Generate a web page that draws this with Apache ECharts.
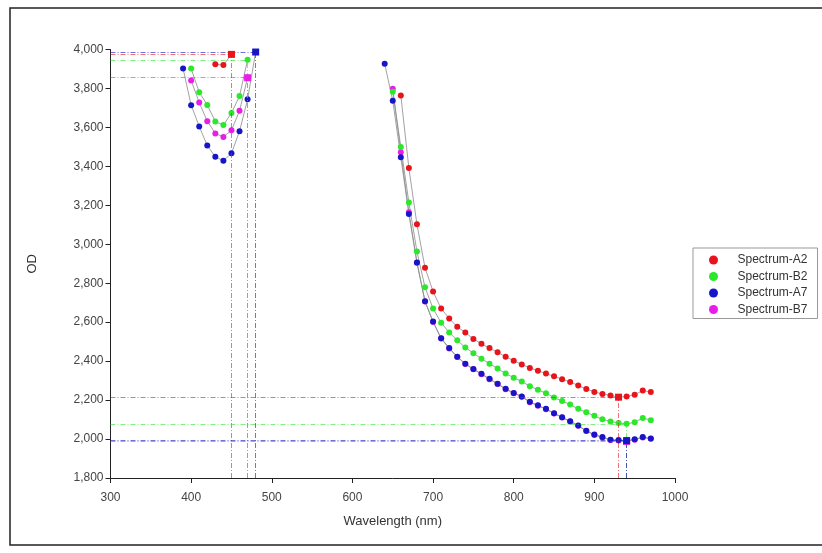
<!DOCTYPE html>
<html>
<head>
<meta charset="utf-8">
<script src="https://cdn.jsdelivr.net/npm/echarts@6/dist/echarts.min.js"></script>
<style>html,body{margin:0;padding:0;background:#fff}#c{width:822px;height:553px}</style>
</head>
<body>
<div id="c"></div>
<script>
// ---- data ----
const xTicks = [300, 400, 500, 600, 700, 800, 900, 1000];
const yTicks = [1800, 2000, 2200, 2400, 2600, 2800, 3000, 3200, 3400, 3600, 3800, 4000];

const a2LeftWl = [430, 440, 450];
const a2LeftOD = [3924, 3920, 3975];
const a2RightWl = [660,670,680,690,700,710,720,730,740,750,760,770,780,790,800,810,820,830,840,850,860,870,880,890,900,910,920,930,940,950,960,970];
const a2RightOD = [3764,3391,3103,2880,2757,2670,2619,2576,2547,2514,2489,2467,2445,2423,2402,2383,2365,2351,2336,2322,2307,2293,2275,2257,2242,2231,2224,2215,2218,2228,2249,2242];

const b2LeftWl = [400, 410, 420, 430, 440, 450, 460, 470];
const b2LeftOD = [3902, 3781, 3715, 3630, 3612, 3674, 3761, 3947];
const b2RightWl = [650,660,670,680,690,700,710,720,730,740,750,760,770,780,790,800,810,820,830,840,850,860,870,880,890,900,910,920,930,940,950,960,970];
const b2RightOD = [3783,3500,3215,2963,2779,2670,2597,2547,2507,2470,2441,2412,2387,2362,2336,2315,2296,2271,2253,2235,2213,2195,2177,2155,2137,2119,2101,2090,2083,2078,2086,2108,2097];

const a7LeftWl = [390, 400, 410, 420, 430, 440, 450, 460, 470, 480];
const a7LeftOD = [3902, 3714, 3605, 3507, 3449, 3429, 3467, 3580, 3744, 3987];
const a7RightWl = [640,650,660,670,680,690,700,710,720,730,740,750,760,770,780,790,800,810,820,830,840,850,860,870,880,890,900,910,920,930,940,950,960,970];
const a7RightOD = [3927,3737,3447,3155,2907,2708,2603,2518,2467,2423,2387,2360,2335,2309,2284,2258,2237,2219,2191,2173,2155,2133,2112,2092,2070,2043,2023,2010,1997,1995,1992,1999,2010,2003];

const b7LeftWl = [400, 410, 420, 430, 440, 450, 460, 470];
const b7LeftOD = [3841, 3728, 3632, 3569, 3551, 3585, 3685, 3855];
const b7RightWl = [650,660,670,680,690,700,710,720,730,740,750,760,770,780,790,800,810,820,830,840,850,860,870,880,890,900,910,920,930,940,950,960,970];
const b7RightOD = [3799,3473,3165,2905,2706,2601,2516,2465,2421,2385,2358,2333,2307,2282,2256,2235,2217,2189,2171,2153,2131,2110,2090,2068,2041,2021,2008,1995,1993,1988,1997,2008,2001];

const seriesNames = ['Spectrum-A2', 'Spectrum-B2', 'Spectrum-A7', 'Spectrum-B7'];
const seriesColors = ['#e8141c', '#2be82b', '#1616c8', '#e81ee8'];

// ---- build ----
const X_MIN = 300, Y_MIN = 1800;
function build(lw, lo, rw, ro) {
  const d = [];
  lw.forEach((w, i) => d.push([w, lo[i]]));
  d.push([560, '-']);
  rw.forEach((w, i) => d.push([w, ro[i]]));
  return d;
}
function extremePoint(w, o, useMax) {
  let idx = 0;
  o.forEach((v, i) => { if (useMax ? v > o[idx] : v < o[idx]) idx = i; });
  return [w[idx], o[idx]];
}
function refLines(p) {
  return [
    [{ coord: [X_MIN, p[1]] }, { coord: [p[0], p[1]] }],
    [{ coord: [p[0], Y_MIN] }, { coord: [p[0], p[1]] }]
  ];
}
const sets = [
  [a2LeftWl, a2LeftOD, a2RightWl, a2RightOD, true],
  [b2LeftWl, b2LeftOD, b2RightWl, b2RightOD, false],
  [a7LeftWl, a7LeftOD, a7RightWl, a7RightOD, true],
  [b7LeftWl, b7LeftOD, b7RightWl, b7RightOD, true]
];
const drawOrder = [3, 0, 1, 2];
const series = drawOrder.map(k => {
  const [lw, lo, rw, ro, sq] = sets[k];
  const pMax = extremePoint(lw, lo, true);
  const pMin = extremePoint(rw, ro, false);
  const s = {
    name: seriesNames[k],
    type: 'line',
    data: build(lw, lo, rw, ro),
    symbol: 'circle',
    symbolSize: 6,
    showSymbol: true,
    connectNulls: false,
    itemStyle: { color: seriesColors[k] },
    lineStyle: { color: '#8a8a8a', width: 0.8 },
    emphasis: { disabled: true },
    markLine: {
      silent: true,
      symbol: 'none',
      label: { show: false },
      emphasis: { disabled: true },
      lineStyle: { color: seriesColors[k], width: 1, type: [5, 2, 1, 2], opacity: 0.6 },
      data: refLines(pMax).concat(refLines(pMin))
    }
  };
  if (sq) {
    s.markPoint = {
      silent: true,
      symbol: 'rect',
      symbolSize: 7,
      label: { show: false },
      itemStyle: { color: seriesColors[k] },
      data: [{ coord: pMax }, { coord: pMin }]
    };
  }
  return s;
});

const chart = echarts.init(document.getElementById('c'), null, { renderer: 'canvas' });
chart.setOption({
  animation: false,
  backgroundColor: '#fff',
  textStyle: { fontFamily: 'Arial, "Liberation Sans", sans-serif' },
  graphic: [{
    type: 'rect', silent: true, z: 100,
    shape: { x: 10, y: 8, width: 840, height: 537 },
    style: { fill: 'none', stroke: '#222', lineWidth: 1.5 }
  }],
  grid: { left: 110.5, right: 147, top: 49.5, bottom: 75, containLabel: false },
  legend: {
    orient: 'vertical',
    left: 693, top: 248,
    data: seriesNames,
    icon: 'circle',
    itemWidth: 30, itemHeight: 9, itemGap: 4.5,
    padding: [6, 10, 3, 16],
    borderColor: '#999', borderWidth: 1,
    textStyle: { fontSize: 12, color: '#333', padding: [0, 0, 0, 4], fontFamily: 'Arial, "Liberation Sans", sans-serif' }
  },
  xAxis: {
    type: 'value',
    min: xTicks[0], max: xTicks[xTicks.length - 1], interval: 100,
    name: 'Wavelength (nm)', nameLocation: 'middle', nameGap: 37,
    nameTextStyle: { fontSize: 13, color: '#333' },
    axisLine: { lineStyle: { color: '#222', width: 1 } },
    axisTick: { show: true, length: 5, lineStyle: { color: '#222' } },
    axisLabel: { fontSize: 12, color: '#444', margin: 14, formatter: v => String(v) },
    splitLine: { show: false }
  },
  yAxis: {
    type: 'value',
    min: yTicks[0], max: yTicks[yTicks.length - 1], interval: 200,
    name: 'OD', nameLocation: 'middle', nameGap: 72, nameRotate: 90,
    nameTextStyle: { fontSize: 13, color: '#333' },
    axisLine: { show: true, lineStyle: { color: '#222', width: 1 } },
    axisTick: { show: true, length: 5, lineStyle: { color: '#222' } },
    axisLabel: { fontSize: 12, color: '#444', margin: 7, formatter: v => v.toLocaleString('en-US') },
    splitLine: { show: false }
  },
  series: series
});
</script>
</body>
</html>
